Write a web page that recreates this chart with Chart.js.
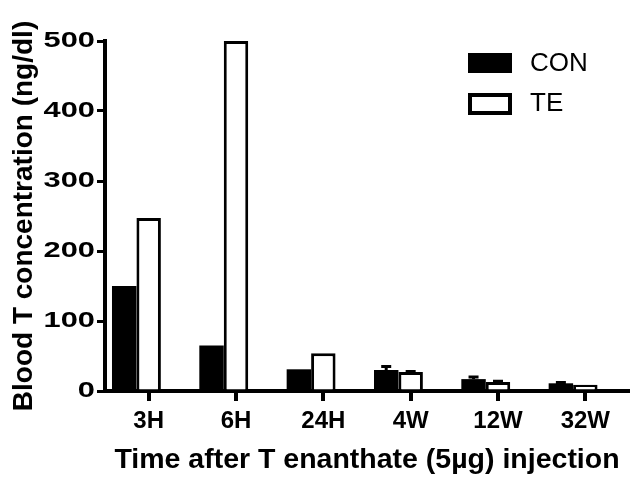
<!DOCTYPE html>
<html>
<head>
<meta charset="utf-8">
<script src="https://cdn.jsdelivr.net/npm/chart.js@4.4.1/dist/chart.umd.min.js"></script>
<style>
  html, body { margin: 0; padding: 0; background: #fff; }
  #wrap { width: 630px; height: 480px; }
</style>
</head>
<body>
<div id="wrap"><canvas id="bars"></canvas></div>
<script>
// values (ng/dl)
const timepoints = ['3H', '6H', '24H', '4W', '12W', '32W'];
const conValues = [150, 65, 31, 30, 17, 11];
const teValues = [247, 500, 54, 27, 13, 9];
const conErrors = [0, 0, 0, 5, 3, 1];
const teErrors = [0, 0, 0, 1, 1, 0];
const yMax = 500;
const yStep = 100;

const fontFamily = '"Liberation Sans", Arial, sans-serif';

// small SEM whiskers on top of the bars
const errorBars = {
  id: 'errorBars',
  afterDatasetsDraw(chart) {
    const ctx = chart.ctx;
    const yScale = chart.scales.y;
    [conErrors, teErrors].forEach((errs, di) => {
      const meta = chart.getDatasetMeta(di);
      meta.data.forEach((bar, i) => {
        const e = errs[i];
        if (!e) return;
        const v = chart.data.datasets[di].data[i];
        const yTop = yScale.getPixelForValue(v + e);
        ctx.save();
        ctx.strokeStyle = '#000';
        ctx.lineWidth = 3;
        ctx.beginPath();
        ctx.moveTo(bar.x, bar.y);
        ctx.lineTo(bar.x, yTop);
        ctx.moveTo(bar.x - 5, yTop);
        ctx.lineTo(bar.x + 5, yTop);
        ctx.stroke();
        ctx.restore();
      });
    });
  }
};

// the y numbers in the original are drawn horizontally stretched
const wideYLabels = {
  id: 'wideYLabels',
  afterLayout(chart) {
    const s = chart.scales.y;
    if (s._wideWrapped) return;
    const orig = s.drawLabels.bind(s);
    s.drawLabels = (area) => {
      const ctx = chart.ctx;
      const anchor = s.right - 10;
      ctx.save();
      ctx.translate(anchor, 0);
      ctx.scale(1.4, 1);
      ctx.translate(-anchor, 0);
      orig(area);
      ctx.restore();
    };
    s._wideWrapped = true;
  }
};

// legend boxes stacked in the top right corner
const boxLegend = {
  id: 'boxLegend',
  afterDraw(chart) {
    const ctx = chart.ctx;
    const items = chart.data.datasets.filter(d => d.label);
    items.forEach((ds, i) => {
      const y = 53 + i * 40;
      ctx.save();
      if (ds.borderWidth) {
        ctx.fillStyle = '#000';
        ctx.fillRect(468, y, 44, 22);
        ctx.fillStyle = '#fff';
        ctx.fillRect(472, y + 4, 36, 14);
      } else {
        ctx.fillStyle = ds.backgroundColor;
        ctx.fillRect(468, y, 44, 20);
      }
      ctx.fillStyle = '#000';
      ctx.font = '26px ' + fontFamily;
      ctx.textBaseline = 'middle';
      ctx.fillText(ds.label, 530, y + 11);
      ctx.restore();
    });
  }
};

new Chart(document.getElementById('bars'), {
  type: 'bar',
  data: {
    labels: timepoints,
    datasets: [
      {
        label: 'CON',
        data: conValues,
        backgroundColor: '#000',
        borderWidth: 0
      },
      {
        label: 'TE',
        data: teValues,
        backgroundColor: '#fff',
        borderColor: '#000',
        borderWidth: 3
      },
      {
        // empty slot, keeps the tick under the TE bar like in the original
        label: '',
        data: [],
        backgroundColor: 'rgba(0,0,0,0)'
      }
    ]
  },
  options: {
    responsive: true,
    maintainAspectRatio: false,
    animation: false,
    layout: {
      padding: { top: 41, right: 1, left: 0, bottom: 0 }
    },
    datasets: {
      bar: {
        categoryPercentage: 0.84,
        barPercentage: 1.0
      }
    },
    plugins: {
      legend: { display: false },
      tooltip: { enabled: false }
    },
    scales: {
      x: {
        grid: {
          offset: false,
          drawOnChartArea: false,
          drawTicks: true,
          tickLength: 10,
          lineWidth: 4,
          color: '#000'
        },
        border: { display: true, color: '#000', width: 4 },
        ticks: {
          color: '#000',
          padding: 6,
          font: { family: fontFamily, size: 24, weight: 'bold' }
        },
        title: {
          display: true,
          text: 'Time after T enanthate (5µg) injection',
          color: '#000',
          padding: { top: 0, bottom: 3 },
          font: { family: fontFamily, size: 28.5, weight: 'bold' }
        },
        afterFit(scale) {
          scale.height = 89;
        }
      },
      y: {
        min: 0,
        max: yMax,
        grid: {
          drawOnChartArea: false,
          drawTicks: true,
          tickLength: 8,
          lineWidth: 3,
          color: '#000'
        },
        border: { display: true, color: '#000', width: 4 },
        ticks: {
          stepSize: yStep,
          color: '#000',
          padding: 2,
          font: { family: fontFamily, size: 22, weight: 'bold' }
        },
        title: {
          display: true,
          text: 'Blood T concentration (ng/dl)',
          color: '#000',
          padding: { top: 7, bottom: 0 },
          font: { family: fontFamily, size: 28, weight: 'bold' }
        },
        afterFit(scale) {
          scale.width = 105;
        }
      }
    }
  },
  plugins: [errorBars, wideYLabels, boxLegend]
});
</script>
</body>
</html>
